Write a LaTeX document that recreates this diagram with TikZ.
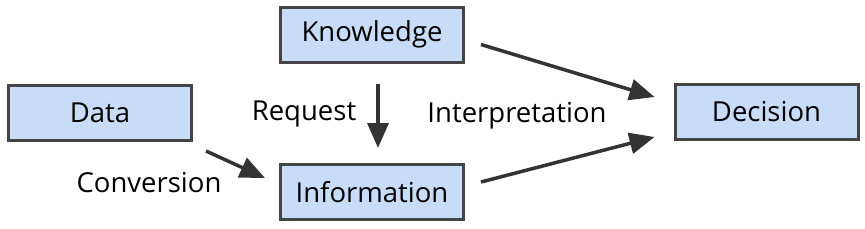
\documentclass[tikz,border=0pt]{standalone}
\usepackage{fontspec}
\setmainfont{Open Sans}
\usetikzlibrary{arrows.meta}
\definecolor{boxfill}{HTML}{C9DCF7}
\definecolor{boxline}{HTML}{444444}
\definecolor{arrcol}{HTML}{333333}
\begin{document}
\begin{tikzpicture}[x=1pt,y=-1pt,
  box/.style={draw=boxline,fill=boxfill,line width=3pt,minimum width=183pt,minimum height=55pt,inner sep=0pt,font=\fontsize{27.5}{30}\selectfont},
  lbl/.style={font=\fontsize{27.5}{30}\selectfont,inner sep=0pt,anchor=base},
  arr/.style={draw=arrcol,line width=3.5pt,-{Triangle[length=25pt,width=21pt]}}]
\useasboundingbox (0,0) rectangle (865,228);
\node[box] (know) at (372,34.5) {Knowledge};
\node[box] (data) at (100,113) {Data};
\node[box] (info) at (372,192) {Information};
\node[box] (dec) at (766.5,112) {Decision};
\node[lbl] (req) at (304,120) {Request};
\node[lbl] (interp) at (517,122) {Interpretation};
\node[lbl] (conv) at (149,192) {Conversion};
\draw[arr] ([shift={(16,10)}]know.east) -- ([shift={(-19,-15)}]dec.west);
\draw[arr] ([shift={(16,-10)}]info.east) -- ([shift={(-19,25)}]dec.west);
\draw[arr] ([shift={(6,20)}]know.south) -- ([shift={(6,-15)}]info.north);
\draw[arr] ([shift={(13,38)}]data.east) -- ([shift={(-14,-14)}]info.west);
\end{tikzpicture}
\end{document}
